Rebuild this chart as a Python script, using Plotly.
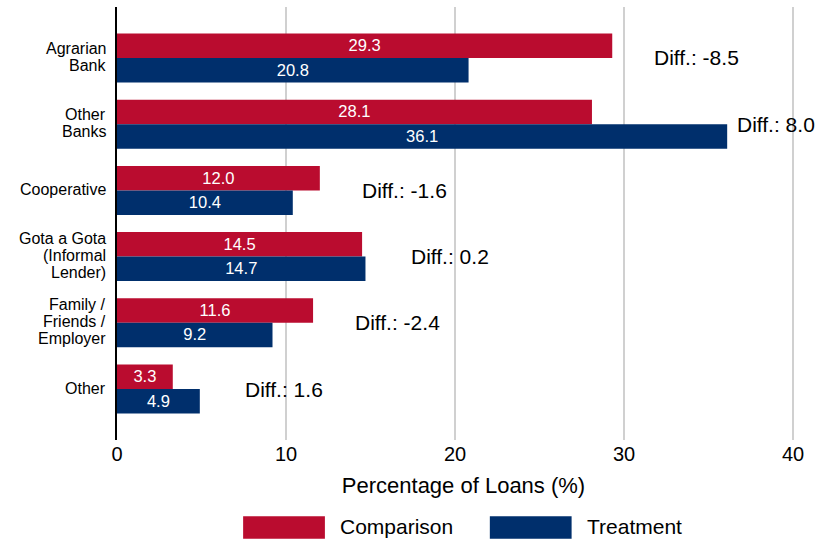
import plotly.graph_objects as go

# Loan sources and share of loans by group (%)
categories = [
    "Agrarian<br>Bank",
    "Other<br>Banks",
    "Cooperative",
    "Gota a Gota<br>(Informal<br>Lender)",
    "Family /<br>Friends /<br>Employer",
    "Other",
]
comparison = [29.3, 28.1, 12.0, 14.5, 11.6, 3.3]
treatment = [20.8, 36.1, 10.4, 14.7, 9.2, 4.9]
diffs = [-8.5, 8.0, -1.6, 0.2, -2.4, 1.6]
x_ticks = [0, 10, 20, 30, 40]

RED = "#BA0C2F"
BLUE = "#002F6C"
FONT = "Liberation Sans, Arial, sans-serif"
LINE_GAP = 17  # pixel spacing between lines of a category label

fig = go.Figure()
for name, vals, color in [("Comparison", comparison, RED), ("Treatment", treatment, BLUE)]:
    fig.add_trace(go.Bar(
        y=categories, x=vals, orientation="h", name=name,
        marker=dict(color=color, line=dict(width=0)),
        text=[f"{v:.1f}" for v in vals], textposition="inside",
        insidetextanchor="middle",
        textfont=dict(color="white", size=17, family=FONT),
        showlegend=False,
    ))

# Category labels, one annotation per line for tight line spacing
for cat in categories:
    lines = cat.split("<br>")
    mid = (len(lines) - 1) / 2
    for i, line in enumerate(lines):
        fig.add_annotation(
            xref="paper", x=0, y=cat, text=line, showarrow=False,
            xanchor="right", yanchor="middle", xshift=-9,
            yshift=(mid - i) * LINE_GAP + 1,
            font=dict(size=16, color="black", family=FONT),
        )

# Difference annotations to the right of each pair
for cat, c, t, d in zip(categories, comparison, treatment, diffs):
    fig.add_annotation(
        x=min(max(c, t) + 5, 39.0), y=cat, text=f"Diff.: {d:.1f}",
        showarrow=False, xanchor="center", yanchor="middle",
        font=dict(size=21, color="black", family=FONT),
    )

# Legend drawn below the axis
legend_items = [("Comparison", RED, 0.182), ("Treatment", BLUE, 0.538)]
for name, color, x0 in legend_items:
    fig.add_shape(type="rect", xref="paper", yref="paper",
                  x0=x0, x1=x0 + 0.118, y0=-0.228, y1=-0.176,
                  fillcolor=color, line=dict(width=0))
    fig.add_annotation(xref="paper", yref="paper", x=x0 + 0.137, y=-0.2,
                       text=name, showarrow=False, xanchor="left", yanchor="middle",
                       font=dict(size=21, color="black", family=FONT))

fig.update_layout(
    width=825, height=541,
    margin=dict(l=117, r=15, t=7, b=101),
    paper_bgcolor="white", plot_bgcolor="white",
    barmode="group", bargap=0.26, bargroupgap=0,
    font=dict(family=FONT, color="black"),
    xaxis=dict(
        range=[0, 41], tickvals=x_ticks, showgrid=True,
        gridcolor="#d0d0d0", gridwidth=2, zeroline=False, showline=False,
        tickfont=dict(size=20), ticks="",
        title=dict(text="Percentage of Loans (%)", font=dict(size=22), standoff=13),
    ),
    yaxis=dict(
        range=[5.77, -0.77], type="category", showgrid=False, zeroline=False,
        showline=True, linecolor="black", linewidth=2, ticks="",
        showticklabels=False,
    ),
)

fig.write_html("out.html")
